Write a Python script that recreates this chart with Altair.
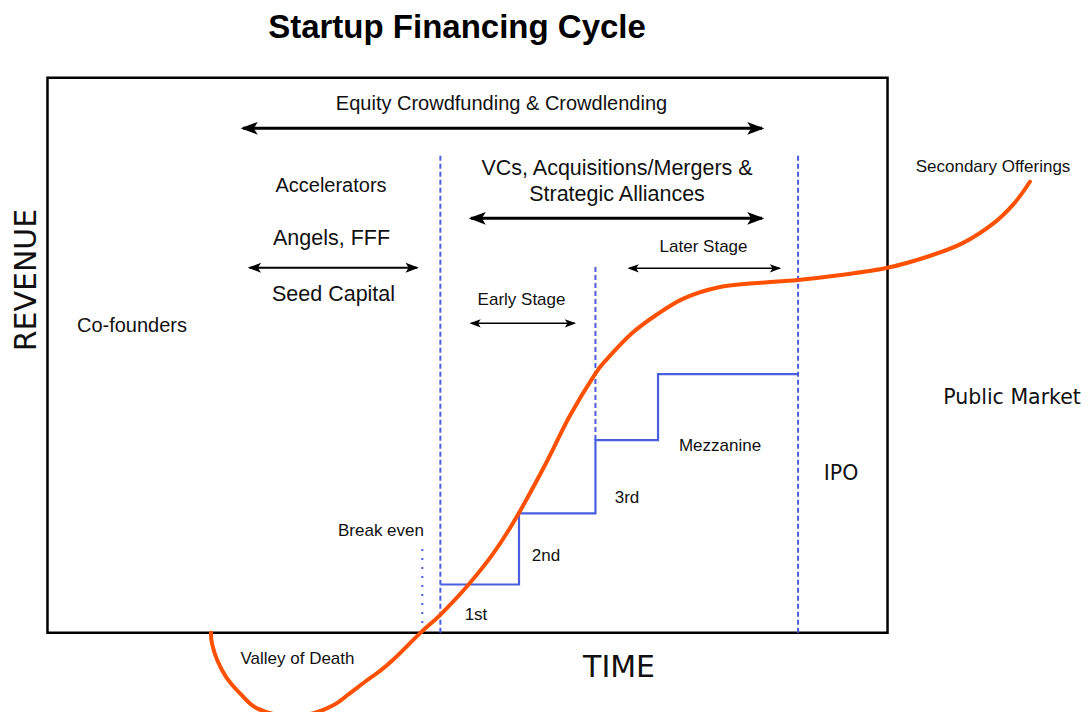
import altair as alt
import pandas as pd

# Coordinate units: TIME runs 0..100 across the framed plot, REVENUE 0..100 up it.
T_DOMAIN = [-4.7, 123.15]
R_DOMAIN = [-14.3, 112.55]

# ---- data ---------------------------------------------------------------
frame_t = [0, 100]
frame_r = [0, 100]

# revenue curve (valley of death -> growth -> public market)
curve_t = [19.46, 19.58, 20.20, 21.25, 22.92, 24.94, 28.49, 31.58, 34.07, 35.73,
           37.80, 39.45, 41.11, 44.42, 46.73, 49.90, 53.07, 55.86, 59.23, 62.12,
           65.18, 66.68, 69.57, 72.46, 75.77, 79.92, 84.05, 89.35, 94.39, 99.99,
           104.74, 108.88, 112.61, 115.08, 116.95]
curve_r = [0.0, -1.93, -4.94, -7.95, -10.94, -13.64, -15.03, -14.54, -13.05, -11.24,
           -8.85, -7.05, -4.94, 0.0, 3.17, 8.27, 14.29, 20.88, 30.20, 38.90,
           46.59, 49.42, 53.93, 57.23, 60.23, 62.22, 62.94, 63.53, 64.43, 65.75,
           67.73, 70.14, 73.75, 77.35, 81.24]

# financing rounds (1st, 2nd, 3rd, mezzanine, IPO)
round_t = [46.77, 56.13, 65.23, 72.68, 89.35]
round_r = [8.67, 21.50, 34.70, 46.59, 46.59]

# stage boundaries (dashed)
stage_t = [46.77, 65.23, 89.35]
stage_r0 = [0.0, 34.70, 0.0]
stage_r1 = [86.05, 66.23, 86.05]

# break-even marker (dotted)
breakeven_t = [44.62]
breakeven_r0 = [1.73]
breakeven_r1 = [15.78]

# arrows: span arrows, seed arrow, stage arrows
span_t1 = [23.27, 50.42]
span_t2 = [85.06, 85.06]
span_r = [90.87, 74.65]

seed_t1 = [24.06]
seed_t2 = [43.99]
seed_r = [65.75]

stage_arrow_t1 = [50.42, 69.23]
stage_arrow_t2 = [62.74, 87.15]
stage_arrow_r = [55.73, 65.64]

# labels
title_text = ["Startup Financing Cycle"]
title_t = [48.75]
title_r = [107.14]

big_labels = ["VCs, Acquisitions/Mergers &", "Strategic Alliances", "Angels, FFF", "Seed Capital"]
big_t = [67.80, 67.80, 33.81, 34.05]
big_r = [82.45, 77.77, 69.84, 59.75]

mid_labels = ["Equity Crowdfunding & Crowdlending", "Accelerators", "Co-founders"]
mid_t = [54.05, 33.75, 10.06]
mid_r = [94.16, 79.39, 54.16]

small_labels = ["Early Stage", "Later Stage", "Secondary Offerings", "Mezzanine",
                "3rd", "2nd", "1st", "Break even", "Valley of Death"]
small_t = [56.43, 78.10, 112.56, 80.06, 68.99, 59.35, 51.01, 39.70, 29.76]
small_r = [59.12, 68.58, 83.08, 32.77, 23.44, 12.90, 2.27, 17.46, -5.66]

market_labels = ["Public Market", "IPO"]
market_t = [114.82, 94.46]
market_r = [41.19, 27.50]

axis_x_label = ["TIME"]
axis_x_t = [68.04]
axis_x_r = [-7.95]

axis_y_label = ["REVENUE"]
axis_y_t = [-1.37]
axis_y_r = [63.53]

# ---- styles ---------------------------------------------------------------
ORANGE = "#ff5000"
BLUE = "#4a5ee0"
RIGHT_HEAD = "M0.3,0 L-1.85,-0.8 L-1.35,0 L-1.85,0.8 Z"
LEFT_HEAD = "M-0.3,0 L1.85,-0.8 L1.35,0 L1.85,0.8 Z"

xs = alt.Scale(domain=T_DOMAIN, nice=False, zero=False)
ys = alt.Scale(domain=R_DOMAIN, nice=False, zero=False)


def X(f):
    return alt.X(f"{f}:Q", scale=xs, axis=None)


def Y(f):
    return alt.Y(f"{f}:Q", scale=ys, axis=None)


frame = alt.Chart(pd.DataFrame({"t0": [frame_t[0]], "t1": [frame_t[1]],
                                "r0": [frame_r[0]], "r1": [frame_r[1]]})).mark_rect(
    fillOpacity=0, stroke="black", strokeWidth=2.5
).encode(x=X("t0"), x2=alt.X2("t1"), y=Y("r0"), y2=alt.Y2("r1"))

stages = alt.Chart(pd.DataFrame({"t": stage_t, "r0": stage_r0, "r1": stage_r1})).mark_rule(
    color=BLUE, strokeWidth=2, strokeDash=[5, 3]
).encode(x=X("t"), y=Y("r0"), y2=alt.Y2("r1"))

breakeven = alt.Chart(pd.DataFrame({"t": breakeven_t, "r0": breakeven_r0, "r1": breakeven_r1})).mark_rule(
    color=BLUE, strokeWidth=2, strokeDash=[2, 7]
).encode(x=X("t"), y=Y("r0"), y2=alt.Y2("r1"))

rounds = alt.Chart(pd.DataFrame({"t": round_t, "r": round_r})).mark_line(
    color=BLUE, strokeWidth=2.2, interpolate="step-after"
).encode(x=X("t"), y=Y("r"))

curve = alt.Chart(pd.DataFrame({"i": list(range(len(curve_t))), "t": curve_t, "r": curve_r})).mark_line(
    color=ORANGE, strokeWidth=4, interpolate="cardinal", strokeCap="round"
).encode(x=X("t"), y=Y("r"), order="i:Q")


def arrows(t1, t2, r, width, head):
    df = pd.DataFrame({"t1": t1, "t2": t2, "r": r})
    shaft = alt.Chart(df).mark_rule(color="black", strokeWidth=width).encode(
        x=X("t1"), x2=alt.X2("t2"), y=Y("r"))
    left = alt.Chart(df).mark_point(shape=LEFT_HEAD, filled=True, color="black", opacity=1,
                                    size=head, strokeWidth=0).encode(x=X("t1"), y=Y("r"))
    right = alt.Chart(df).mark_point(shape=RIGHT_HEAD, filled=True, color="black", opacity=1,
                                     size=head, strokeWidth=0).encode(x=X("t2"), y=Y("r"))
    return [shaft, left, right]


def labels(texts, ts, rs, size, font="Liberation Sans", weight="normal", angle=0, color="#111111"):
    df = pd.DataFrame({"label": texts, "t": ts, "r": rs})
    return alt.Chart(df).mark_text(
        font=font, fontSize=size, fontWeight=weight, angle=angle,
        align="center", baseline="alphabetic", color=color
    ).encode(x=X("t"), y=Y("r"), text="label:N")


layers = [frame, stages, breakeven, rounds]
layers += arrows(span_t1, span_t2, span_r, 3, 256)
layers += arrows(seed_t1, seed_t2, seed_r, 2, 154)
layers += arrows(stage_arrow_t1, stage_arrow_t2, stage_arrow_r, 1.5, 110)
layers += [
    labels(title_text, title_t, title_r, 33, weight="bold", color="black"),
    labels(big_labels, big_t, big_r, 21.5),
    labels(mid_labels, mid_t, mid_r, 20),
    labels(small_labels, small_t, small_r, 17),
    labels(market_labels, market_t, market_r, 20.5, font="DejaVu Sans"),
    labels(axis_x_label, axis_x_t, axis_x_r, 30, font="DejaVu Sans"),
    labels(axis_y_label, axis_y_t, axis_y_r, 30, font="DejaVu Sans", angle=270),
    curve,
]

chart = alt.layer(*layers).properties(
    width=1074, height=704, padding=0,
    autosize=alt.AutoSizeParams(type="none"),
    background="white",
).configure_view(strokeWidth=0)

chart.save("out.html", embed_options={"renderer": "svg", "actions": False})
